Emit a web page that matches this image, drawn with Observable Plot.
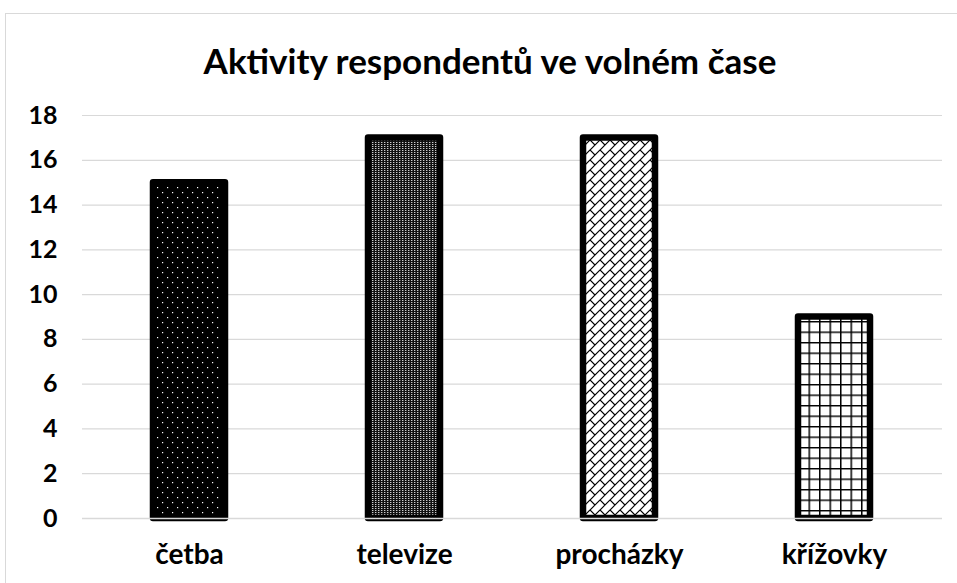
<!DOCTYPE html>
<html>
<head>
<meta charset="utf-8">
<script src="https://cdn.jsdelivr.net/npm/d3@7"></script>
<script src="https://cdn.jsdelivr.net/npm/@observablehq/plot@0.6"></script>
<style>
  body { margin: 0; background: #fff; width: 957px; height: 583px; overflow: hidden; position: relative; font-family: Lato, "Open Sans", sans-serif; }
  #frame { position: absolute; left: 5px; top: 13px; width: 1000px; height: 620px; border: 1.5px solid #d9d9d9; box-sizing: border-box; }
  #title { position: absolute; left: 0; width: 980px; top: 39px; text-align: center; font-weight: 700; font-size: 35px; color: #000; }
  #chart { position: absolute; left: 0; top: 90px; }
</style>
</head>
<body>
<div id="frame"></div>
<div id="title">Aktivity respondentů ve volném čase</div>
<div id="chart"></div>
<script>
const categories = ["četba", "televize", "procházky", "křížovky"];
const values = [15, 17, 17, 9];
const yTicks = [0, 2, 4, 6, 8, 10, 12, 14, 16, 18];
const patternIds = ["pat-dots", "pat-fine", "pat-brick", "pat-grid"];

const data = categories.map((c, i) => ({activity: c, value: values[i]}));

const chart = Plot.plot({
  width: 957,
  height: 493,
  marginTop: 25,
  marginBottom: 65,
  marginLeft: 82,
  marginRight: 15,
  style: {fontFamily: "Lato, 'Open Sans', sans-serif", fontWeight: 700, color: "#000", background: "transparent"},
  x: {domain: categories, paddingInner: 0.665, paddingOuter: 0.3325, label: null, tickSize: 0, tickPadding: 26},
  y: {domain: [0, 18], ticks: yTicks, label: null, tickSize: 0, tickPadding: 25},
  color: {domain: categories, range: patternIds.map(id => `url(#${id})`)},
  marks: [
    Plot.gridY(yTicks, {stroke: "#d9d9d9", strokeOpacity: 1, strokeWidth: 1.2}),
    Plot.barY(data, {x: "activity", y: "value", fill: "activity", stroke: "#000", strokeWidth: 6.5, strokeLinejoin: "round"}),
    Plot.ruleY([0], {stroke: "#d9d9d9", strokeWidth: 1.5})
  ]
});

// pattern definitions
const svg = d3.select(chart);
const defs = svg.insert("defs", ":first-child");
// četba: black with white dots
let p = defs.append("pattern").attr("id", patternIds[0]).attr("patternUnits", "userSpaceOnUse").attr("width", 10).attr("height", 10);
p.append("rect").attr("width", 10).attr("height", 10).attr("fill", "#000");
p.append("rect").attr("x", 2).attr("y", 2).attr("width", 1.2).attr("height", 1.2).attr("fill", "#fff");
p.append("rect").attr("x", 7).attr("y", 7).attr("width", 1.2).attr("height", 1.2).attr("fill", "#fff");
// televize: fine grey dots
p = defs.append("pattern").attr("id", patternIds[1]).attr("patternUnits", "userSpaceOnUse").attr("width", 3).attr("height", 2);
p.append("rect").attr("width", 3).attr("height", 2).attr("fill", "#111");
p.append("rect").attr("x", 0).attr("y", 0).attr("width", 1.4).attr("height", 1).attr("fill", "#ccc");
// procházky: diagonal brick
p = defs.append("pattern").attr("id", patternIds[2]).attr("patternUnits", "userSpaceOnUse").attr("width", 10).attr("height", 10);
p.append("rect").attr("width", 10).attr("height", 10).attr("fill", "#fff");
p.append("path").attr("d", "M-1,11 L11,-1 M-1,1 L1,-1 M9,11 L11,9 M0,0 L5,5").attr("stroke", "#000").attr("stroke-width", 1.2).attr("fill", "none");
// křížovky: grid
p = defs.append("pattern").attr("id", patternIds[3]).attr("patternUnits", "userSpaceOnUse").attr("width", 10.5).attr("height", 10.5);
p.append("rect").attr("width", 10.5).attr("height", 10.5).attr("fill", "#fff");
p.append("path").attr("d", "M0.75,0 V10.5 M0,0.75 H10.5").attr("stroke", "#000").attr("stroke-width", 1.5).attr("fill", "none");

svg.selectAll("g[aria-label='y-axis tick label']").attr("font-size", 25);
svg.selectAll("g[aria-label='x-axis tick label']").attr("font-size", 28);
document.getElementById("chart").appendChild(chart);
</script>
</body>
</html>
